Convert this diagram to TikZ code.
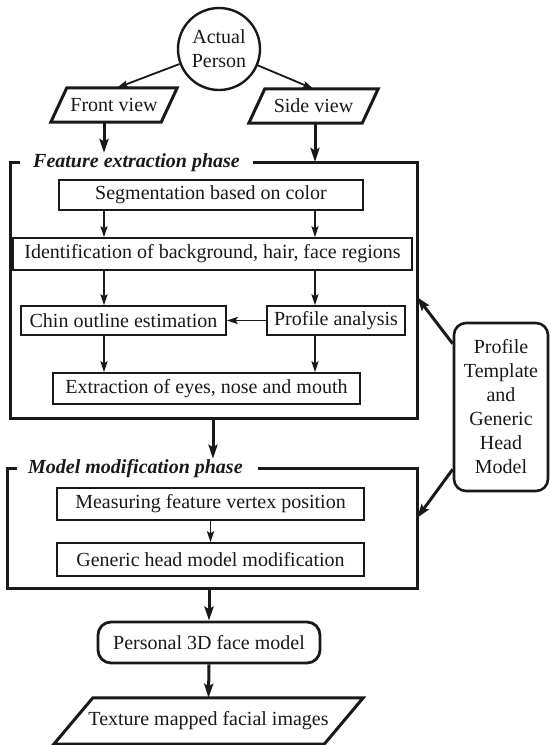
\documentclass[tikz,border=0pt]{standalone}
\usepackage{fontspec}
\setmainfont{Liberation Serif}
\usetikzlibrary{arrows.meta,calc}
\begin{document}
\begin{tikzpicture}[x=1pt,y=-1pt,
  txt/.style={font=\fontsize{20}{24}\selectfont,inner sep=0pt,text=black!90},
  box/.style={txt,draw=black!90,line width=1.4pt},
  para/.style={draw=black!90,line width=3pt,line join=miter},
  framebox/.style={draw=black!90,line width=3pt,line join=miter},
  phaselabel/.style={font=\fontsize{20}{24}\selectfont\bfseries\itshape,inner sep=0pt,text=black!90},
  arr/.style={draw=black!90,line width=1.8pt,-{Stealth[length=11pt,width=7pt,inset=2pt]}},
  bigarr/.style={draw=black!90,line width=3pt,-{Stealth[length=14pt,width=9pt,inset=2.5pt]}},
]
\useasboundingbox (0,0) rectangle (550,745);

% top
\node[txt,draw=black!90,circle,line width=2.4pt,minimum size=82pt,align=center] (person) at (219,49) {Actual\\Person};
\node[txt,minimum width=110pt,minimum height=34pt] (front) at (114,105) {Front view};
\draw[para] ($(front.north west)+(8,0)$) -- ($(front.north east)+(8,0)$) -- ($(front.south east)+(-8,0)$) -- ($(front.south west)+(-8,0)$) -- cycle;
\node[txt,minimum width=113pt,minimum height=34pt] (side) at (313.5,106) {Side view};
\draw[para] ($(side.north west)+(8,0)$) -- ($(side.north east)+(8,0)$) -- ($(side.south east)+(-8,0)$) -- ($(side.south west)+(-8,0)$) -- cycle;

% feature extraction frame
\coordinate (fxNW) at (10,162);
\coordinate (fxSW) at (10,418);
\coordinate (fxSE) at (417,418);
\coordinate (fxNE) at (417,162);
\coordinate (fxR) at (417,297);
\node[phaselabel,anchor=base west] (fxlabel) at (33,167) {Feature extraction phase};
\draw[framebox] (20,162) -- (fxNW) -- (fxSW) -- (fxSE) -- (fxNE) -- (253,162);

\node[box,minimum width=304pt,minimum height=30pt] (seg) at (211,195) {Segmentation based on color};
\node[box,minimum width=399pt,minimum height=32pt] (ident) at (212.5,254) {Identification of background, hair, face regions};
\node[box,minimum width=205pt,minimum height=29pt] (chin) at (123.5,320.5) {Chin outline estimation};
\node[box,minimum width=138pt,minimum height=29pt] (prof) at (336,320.5) {Profile analysis};
\node[box,minimum width=307pt,minimum height=31pt] (ext) at (206.5,388.5) {Extraction of eyes, nose and mouth};

% model modification frame
\coordinate (mmNW) at (7,468);
\coordinate (mmSW) at (7,588);
\coordinate (mmSE) at (417,588);
\coordinate (mmNE) at (417,468);
\coordinate (mmR) at (417,518);
\node[phaselabel,anchor=base west] (mmlabel) at (28,473) {Model modification phase};
\draw[framebox] (17,468) -- (mmNW) -- (mmSW) -- (mmSE) -- (mmNE) -- (258,468);

\node[box,minimum width=307pt,minimum height=32pt] (meas) at (210.5,504) {Measuring feature vertex position};
\node[box,minimum width=307pt,minimum height=33pt] (gen) at (210.5,559.5) {Generic head model modification};

% bottom
\node[txt,draw=black!90,line width=2.8pt,rounded corners=13pt,minimum width=222pt,minimum height=41pt] (personal) at (209,642.5) {Personal 3D face model};
\node[txt,minimum width=270pt,minimum height=46pt] (texture) at (208.5,721) {Texture mapped facial images};
\draw[para] ($(texture.north west)+(19.5,0)$) -- ($(texture.north east)+(19.5,0)$) -- ($(texture.south east)+(-19.5,0)$) -- ($(texture.south west)+(-19.5,0)$) -- cycle;

% template
\node[txt,draw=black!90,line width=2.6pt,rounded corners=12pt,minimum width=94pt,minimum height=168pt,align=center] (tmpl) at (501,407) {Profile\\Template\\and\\Generic\\Head\\Model};

% connectors
\coordinate (lx) at (104,0);
\coordinate (rx) at (315,0);
\coordinate (cx) at (213,0);
\draw[arr] (person) -- ($(front.north)+(3,0)$);
\draw[arr] (person) -- (side.north);
\draw[bigarr] (front.south -| lx) -- (fxlabel.north -| lx);
\draw[bigarr] (side.south -| rx) -- (fxNE -| rx);
\draw[arr] (seg.south -| lx) -- (ident.north -| lx);
\draw[arr] (seg.south -| rx) -- (ident.north -| rx);
\draw[arr] (ident.south -| lx) -- (chin.north -| lx);
\draw[arr] (ident.south -| rx) -- (prof.north -| rx);
\draw[arr] (prof.west) -- (chin.east);
\draw[arr] (chin.south -| lx) -- (ext.north -| lx);
\draw[arr] (prof.south -| rx) -- (ext.north -| rx);
\draw[bigarr] (fxSW -| cx) -- (mmlabel.north -| cx);
\draw[arr] (meas.south) -- (gen.north);
\draw[bigarr] (mmSW -| personal.north) -- (personal.north);
\draw[bigarr] (personal.south) -- (texture.north);
\draw[bigarr] ($(tmpl.north west)+(0,22)$) -- (fxR);
\draw[bigarr] ($(tmpl.south west)+(0,-23)$) -- (mmR);
\end{tikzpicture}
\end{document}
